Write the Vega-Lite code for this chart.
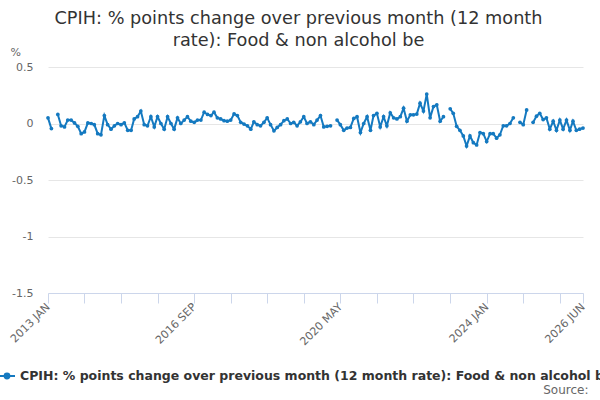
{
  "$schema": "https://vega.github.io/schema/vega-lite/v6.json",
  "width": 535,
  "height": 226,
  "autosize": {"type": "none"},
  "padding": {"left": 48, "top": 67, "right": 17, "bottom": 107},
  "background": "white",
  "config": {"font": "DejaVu Sans", "view": {"stroke": null}},
  "title": {
    "text": ["CPIH: % points change over previous month (12 month", "rate): Food & non alcohol be"],
    "fontSize": 17.7,
    "fontWeight": "normal",
    "color": "#333333",
    "anchor": "middle",
    "frame": "group",
    "dx": -17,
    "dy": 22,
    "offset": 18,
    "lineHeight": 22
  },
  "data": {
    "values": [
      {"date": "2013-01-01", "value": 0.05},
      {"date": "2013-02-01", "value": -0.045},
      {"date": "2013-03-01", "value": null},
      {"date": "2013-04-01", "value": 0.08},
      {"date": "2013-05-01", "value": -0.02},
      {"date": "2013-06-01", "value": -0.03},
      {"date": "2013-07-01", "value": 0.03},
      {"date": "2013-08-01", "value": 0.03},
      {"date": "2013-09-01", "value": 0.005},
      {"date": "2013-10-01", "value": -0.025},
      {"date": "2013-11-01", "value": -0.09},
      {"date": "2013-12-01", "value": -0.075},
      {"date": "2014-01-01", "value": 0.005},
      {"date": "2014-02-01", "value": 0.0},
      {"date": "2014-03-01", "value": -0.01},
      {"date": "2014-04-01", "value": -0.09},
      {"date": "2014-05-01", "value": -0.1},
      {"date": "2014-06-01", "value": 0.07},
      {"date": "2014-07-01", "value": -0.01},
      {"date": "2014-08-01", "value": -0.05},
      {"date": "2014-09-01", "value": -0.02},
      {"date": "2014-10-01", "value": 0.0},
      {"date": "2014-11-01", "value": -0.01},
      {"date": "2014-12-01", "value": 0.005},
      {"date": "2015-01-01", "value": -0.06},
      {"date": "2015-02-01", "value": -0.06},
      {"date": "2015-03-01", "value": 0.04},
      {"date": "2015-04-01", "value": 0.06},
      {"date": "2015-05-01", "value": 0.11},
      {"date": "2015-06-01", "value": -0.01},
      {"date": "2015-07-01", "value": -0.02},
      {"date": "2015-08-01", "value": 0.06},
      {"date": "2015-09-01", "value": -0.03},
      {"date": "2015-10-01", "value": 0.06},
      {"date": "2015-11-01", "value": 0.0},
      {"date": "2015-12-01", "value": -0.05},
      {"date": "2016-01-01", "value": 0.06},
      {"date": "2016-02-01", "value": 0.0},
      {"date": "2016-03-01", "value": -0.05},
      {"date": "2016-04-01", "value": 0.05},
      {"date": "2016-05-01", "value": 0.0},
      {"date": "2016-06-01", "value": 0.03},
      {"date": "2016-07-01", "value": 0.06},
      {"date": "2016-08-01", "value": 0.02},
      {"date": "2016-09-01", "value": 0.01},
      {"date": "2016-10-01", "value": 0.03},
      {"date": "2016-11-01", "value": 0.03},
      {"date": "2016-12-01", "value": 0.1},
      {"date": "2017-01-01", "value": 0.08},
      {"date": "2017-02-01", "value": 0.07},
      {"date": "2017-03-01", "value": 0.1},
      {"date": "2017-04-01", "value": 0.05},
      {"date": "2017-05-01", "value": 0.04},
      {"date": "2017-06-01", "value": 0.025},
      {"date": "2017-07-01", "value": 0.02},
      {"date": "2017-08-01", "value": 0.03},
      {"date": "2017-09-01", "value": 0.085},
      {"date": "2017-10-01", "value": 0.07},
      {"date": "2017-11-01", "value": 0.01},
      {"date": "2017-12-01", "value": -0.005},
      {"date": "2018-01-01", "value": -0.02},
      {"date": "2018-02-01", "value": -0.05},
      {"date": "2018-03-01", "value": 0.015},
      {"date": "2018-04-01", "value": -0.01},
      {"date": "2018-05-01", "value": -0.02},
      {"date": "2018-06-01", "value": 0.01},
      {"date": "2018-07-01", "value": 0.05},
      {"date": "2018-08-01", "value": -0.01},
      {"date": "2018-09-01", "value": -0.065},
      {"date": "2018-10-01", "value": -0.035},
      {"date": "2018-11-01", "value": -0.01},
      {"date": "2018-12-01", "value": 0.025},
      {"date": "2019-01-01", "value": 0.04},
      {"date": "2019-02-01", "value": 0.0},
      {"date": "2019-03-01", "value": 0.01},
      {"date": "2019-04-01", "value": -0.02},
      {"date": "2019-05-01", "value": 0.015},
      {"date": "2019-06-01", "value": 0.06},
      {"date": "2019-07-01", "value": 0.0},
      {"date": "2019-08-01", "value": 0.015},
      {"date": "2019-09-01", "value": -0.01},
      {"date": "2019-10-01", "value": 0.03},
      {"date": "2019-11-01", "value": 0.07},
      {"date": "2019-12-01", "value": -0.03},
      {"date": "2020-01-01", "value": -0.025},
      {"date": "2020-02-01", "value": -0.02},
      {"date": "2020-03-01", "value": null},
      {"date": "2020-04-01", "value": 0.03},
      {"date": "2020-05-01", "value": -0.01},
      {"date": "2020-06-01", "value": -0.06},
      {"date": "2020-07-01", "value": -0.04},
      {"date": "2020-08-01", "value": -0.035},
      {"date": "2020-09-01", "value": 0.045},
      {"date": "2020-10-01", "value": 0.06},
      {"date": "2020-11-01", "value": -0.08},
      {"date": "2020-12-01", "value": 0.0},
      {"date": "2021-01-01", "value": 0.06},
      {"date": "2021-02-01", "value": -0.06},
      {"date": "2021-03-01", "value": 0.07},
      {"date": "2021-04-01", "value": 0.09},
      {"date": "2021-05-01", "value": -0.03},
      {"date": "2021-06-01", "value": 0.06},
      {"date": "2021-07-01", "value": -0.02},
      {"date": "2021-08-01", "value": 0.095},
      {"date": "2021-09-01", "value": 0.05},
      {"date": "2021-10-01", "value": 0.04},
      {"date": "2021-11-01", "value": 0.06},
      {"date": "2021-12-01", "value": 0.135},
      {"date": "2022-01-01", "value": 0.02},
      {"date": "2022-02-01", "value": 0.077},
      {"date": "2022-03-01", "value": 0.077},
      {"date": "2022-04-01", "value": 0.083},
      {"date": "2022-05-01", "value": 0.18},
      {"date": "2022-06-01", "value": 0.11},
      {"date": "2022-07-01", "value": 0.26},
      {"date": "2022-08-01", "value": 0.05},
      {"date": "2022-09-01", "value": 0.15},
      {"date": "2022-10-01", "value": 0.165},
      {"date": "2022-11-01", "value": 0.02},
      {"date": "2022-12-01", "value": 0.06},
      {"date": "2023-01-01", "value": null},
      {"date": "2023-02-01", "value": 0.13},
      {"date": "2023-03-01", "value": 0.09},
      {"date": "2023-04-01", "value": -0.025},
      {"date": "2023-05-01", "value": -0.06},
      {"date": "2023-06-01", "value": -0.11},
      {"date": "2023-07-01", "value": -0.2},
      {"date": "2023-08-01", "value": -0.11},
      {"date": "2023-09-01", "value": -0.17},
      {"date": "2023-10-01", "value": -0.19},
      {"date": "2023-11-01", "value": -0.08},
      {"date": "2023-12-01", "value": -0.09},
      {"date": "2024-01-01", "value": -0.16},
      {"date": "2024-02-01", "value": -0.09},
      {"date": "2024-03-01", "value": -0.09},
      {"date": "2024-04-01", "value": -0.13},
      {"date": "2024-05-01", "value": -0.1},
      {"date": "2024-06-01", "value": -0.02},
      {"date": "2024-07-01", "value": -0.02},
      {"date": "2024-08-01", "value": 0.0},
      {"date": "2024-09-01", "value": 0.05},
      {"date": "2024-10-01", "value": null},
      {"date": "2024-11-01", "value": 0.01},
      {"date": "2024-12-01", "value": -0.01},
      {"date": "2025-01-01", "value": 0.12},
      {"date": "2025-02-01", "value": null},
      {"date": "2025-03-01", "value": 0.01},
      {"date": "2025-04-01", "value": 0.065},
      {"date": "2025-05-01", "value": 0.09},
      {"date": "2025-06-01", "value": 0.035},
      {"date": "2025-07-01", "value": 0.05},
      {"date": "2025-08-01", "value": -0.05},
      {"date": "2025-09-01", "value": 0.02},
      {"date": "2025-10-01", "value": -0.06},
      {"date": "2025-11-01", "value": 0.03},
      {"date": "2025-12-01", "value": -0.05},
      {"date": "2026-01-01", "value": 0.03},
      {"date": "2026-02-01", "value": -0.06},
      {"date": "2026-03-01", "value": 0.02},
      {"date": "2026-04-01", "value": -0.06},
      {"date": "2026-05-01", "value": -0.05},
      {"date": "2026-06-01", "value": -0.04}
    ]
  },
  "encoding": {
    "x": {
      "field": "date",
      "type": "temporal",
      "scale": {
        "type": "utc",
        "domain": [
          {"year": 2013, "month": 1, "date": 1, "utc": true},
          {"year": 2026, "month": 6, "date": 1, "utc": true}
        ]
      },
      "axis": {
        "title": "Source:",
        "titleX": 540,
        "titleY": 103,
        "titleAlign": "right",
        "titleBaseline": "bottom",
        "titleFontSize": 12,
        "titleFontWeight": "normal",
        "titleColor": "#666666",
        "values": [
          {"year": 2013, "month": 1, "date": 1, "utc": true},
          {"year": 2013, "month": 12, "date": 1, "utc": true},
          {"year": 2014, "month": 11, "date": 1, "utc": true},
          {"year": 2015, "month": 10, "date": 1, "utc": true},
          {"year": 2016, "month": 9, "date": 1, "utc": true},
          {"year": 2017, "month": 8, "date": 1, "utc": true},
          {"year": 2018, "month": 7, "date": 1, "utc": true},
          {"year": 2019, "month": 6, "date": 1, "utc": true},
          {"year": 2020, "month": 5, "date": 1, "utc": true},
          {"year": 2021, "month": 4, "date": 1, "utc": true},
          {"year": 2022, "month": 3, "date": 1, "utc": true},
          {"year": 2023, "month": 2, "date": 1, "utc": true},
          {"year": 2024, "month": 1, "date": 1, "utc": true},
          {"year": 2024, "month": 12, "date": 1, "utc": true},
          {"year": 2025, "month": 11, "date": 1, "utc": true},
          {"year": 2026, "month": 6, "date": 1, "utc": true}
        ],
        "labelExpr": "indexof(['2013-01','2016-09','2020-05','2024-01','2026-06'], utcFormat(datum.value, '%Y-%m')) >= 0 ? upper(utcFormat(datum.value, '%Y %b')) : ''",
        "labelAngle": -45,
        "labelAlign": "right",
        "labelBaseline": "middle",
        "labelFontSize": 11,
        "labelColor": "#666666",
        "labelOverlap": false,
        "labelFlush": false,
        "labelBound": false,
        "labelPadding": 2,
        "tickSize": 10,
        "tickColor": "#ccd6eb",
        "domainColor": "#ccd6eb",
        "grid": false
      }
    },
    "y": {
      "field": "value",
      "type": "quantitative",
      "scale": {"domain": [-1.5, 0.5], "nice": false, "zero": false},
      "axis": {
        "title": "%",
        "titleAngle": 0,
        "titleAlign": "left",
        "titleBaseline": "middle",
        "titleX": -38,
        "titleY": -15,
        "titleFontSize": 11,
        "titleFontWeight": "normal",
        "titleColor": "#666666",
        "values": [-1.5, -1, -0.5, 0, 0.5],
        "labelExpr": "datum.value + ''",
        "labelFontSize": 11,
        "labelColor": "#666666",
        "labelPadding": 15,
        "ticks": false,
        "domain": false,
        "grid": true,
        "gridColor": "#e6e6e6"
      }
    },
    "color": {
      "datum": "CPIH: % points change over previous month (12 month rate): Food & non alcohol be",
      "type": "nominal",
      "scale": {"range": ["#1479c0"]},
      "legend": {
        "orient": "none",
        "legendX": -50,
        "legendY": 300,
        "title": null,
        "labelFontSize": 12.5,
        "labelFontWeight": "bold",
        "labelColor": "#333333",
        "labelLimit": 1000,
        "symbolType": "M-1,0L1,0M-0.3,0A0.3,0.3,0,1,1,0.3,0A0.3,0.3,0,1,1,-0.3,0",
        "symbolSize": 256,
        "symbolStrokeWidth": 2,
        "symbolStrokeColor": "#1479c0",
        "symbolFillColor": "#1479c0",
        "labelOffset": 4
      }
    }
  },
  "layer": [
    {"mark": {"type": "line", "strokeWidth": 2, "invalid": "break-paths-filter-domains"}},
    {"mark": {"type": "point", "filled": true, "size": 14, "opacity": 1}}
  ]
}
